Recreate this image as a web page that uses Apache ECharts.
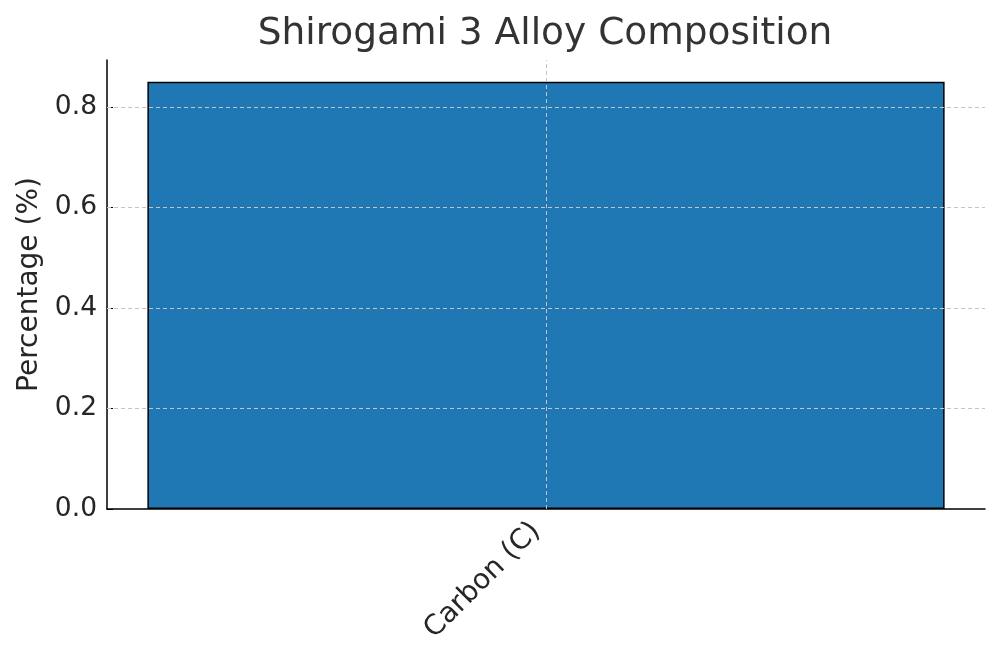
<!DOCTYPE html>
<html><head><meta charset="utf-8">
<script src="https://cdn.jsdelivr.net/npm/echarts@6/dist/echarts.min.js"></script>
<style>html,body{margin:0;padding:0;background:#fff}#c{width:1000px;height:662px}</style>
</head><body><div id="c"></div>
<script>
const categories = ['Carbon (C)'];
const values = [0.85];
const yTicks = [0, 0.2, 0.4, 0.6, 0.8];
const yMax = 0.8935;
const chart = echarts.init(document.getElementById('c'));
const font = 'DejaVu Sans';
const gridLineStyle = {type: [4, 3], color: '#c4c4c4', width: 1};
chart.setOption({
  animation: false,
  backgroundColor: '#fff',
  title: {text: 'Shirogami 3 Alloy Composition', left: 540, top: 10, textAlign: 'center',
    textStyle: {fontFamily: font, fontSize: 37.5, fontWeight: 'normal', color: '#333'}},
  grid: {left: 107, right: 15, top: 60, bottom: 153, outerBoundsMode: 'none', containLabel: false},
  xAxis: {type: 'category', data: categories,
    axisLine: {lineStyle: {color: '#000', width: 1.5}},
    axisTick: {inside: true, length: 4, alignWithLabel: true, lineStyle: {color: '#000'}},
    axisLabel: {rotate: 45, fontFamily: font, fontSize: 28, color: '#262626', margin: 8, padding: [0, 14, 0, 0]},
    splitLine: {show: false}},
  yAxis: {type: 'value', min: 0, max: yMax, interval: 0.2,
    name: 'Percentage (%)', nameLocation: 'middle', nameGap: 61, nameRotate: 90,
    nameTextStyle: {fontFamily: font, fontSize: 28, color: '#262626'},
    axisLine: {show: true, lineStyle: {color: '#000', width: 1.5}},
    axisTick: {show: true, inside: true, length: 6, customValues: yTicks, lineStyle: {color: '#000'}},
    axisLabel: {fontFamily: font, fontSize: 26.5, color: '#262626', margin: 10, customValues: yTicks,
      formatter: v => v.toFixed(1)},
    splitLine: {show: false}},
  series: [{type: 'bar', data: values, barCategoryGap: '9.2%',
    itemStyle: {color: '#1f77b4', borderColor: '#000', borderWidth: 1.5},
    markLine: {silent: true, symbol: 'none', label: {show: false}, lineStyle: gridLineStyle,
      data: yTicks.filter(v => v > 0).map(v => ({yAxis: v})).concat(categories.map(c => ({xAxis: c})))}
  }]
});
</script></body></html>
